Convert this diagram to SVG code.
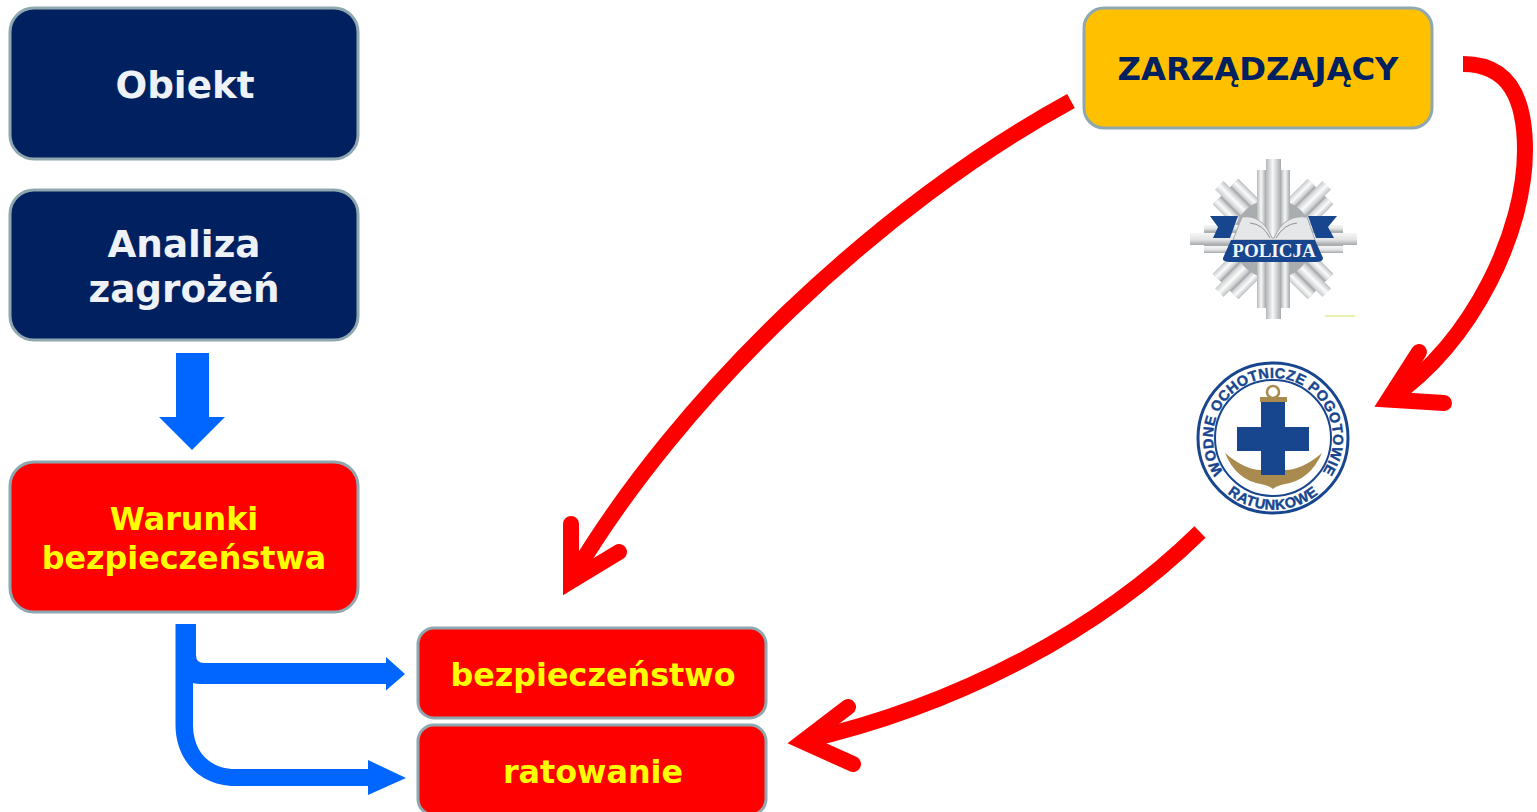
<svg xmlns="http://www.w3.org/2000/svg" width="1537" height="812" viewBox="0 0 1537 812">
<style>
.box{stroke:#8fa8b0;stroke-width:3}
.navy{fill:#00205f}.red{fill:#ff0000}.amber{fill:#ffc000}
text{font-family:"DejaVu Sans",Verdana,sans-serif;font-weight:700;text-anchor:middle}
.w{fill:#eef2f6;font-size:37.300px}.y{fill:#ffff00;font-size:31.800px}
.blue{fill:#0066ff}
.ra{fill:none;stroke:#ff0000;stroke-width:16}
.rh{fill:none;stroke:#ff0000;stroke-width:16;stroke-linecap:round;stroke-linejoin:miter;stroke-miterlimit:10}
.bar{fill:url(#silver)}
.v{fill:url(#sv)}
.h{fill:url(#sh)}
.ring{font-family:"Liberation Sans",Arial,sans-serif;font-size:14.500px;fill:#17468f;stroke:#17468f;stroke-width:.4px;font-weight:700;letter-spacing:.4px}
</style>
<defs>
<linearGradient id="silver" x1="0" y1="0" x2="1" y2="0"><stop offset="0" stop-color="#c9cccd"/><stop offset=".5" stop-color="#fbfbfb"/><stop offset="1" stop-color="#bfc2c4"/></linearGradient>
<linearGradient id="sv" x1="0" y1="0" x2="1" y2="0"><stop offset="0" stop-color="#b4b7ba"/><stop offset=".45" stop-color="#f8f8f8"/><stop offset="1" stop-color="#a5a9ac"/></linearGradient>
<linearGradient id="sh" x1="0" y1="0" x2="0" y2="1"><stop offset="0" stop-color="#f6f6f6"/><stop offset=".55" stop-color="#e2e3e4"/><stop offset="1" stop-color="#a5a9ac"/></linearGradient>
<path id="ringTop" d="M1228.300,478 A60,60 0 1 1 1317.700,478"/>
<path id="ringBot" d="M1212,476 A72,72 0 0 0 1334,476"/>
<g id="diag">
<rect x="1255" y="172" width="36" height="134" fill="#a9adb0"/>
<rect class="bar" x="1255" y="172" width="10" height="134"/>
<rect class="bar" x="1267" y="163" width="12" height="152"/>
<rect class="bar" x="1281" y="172" width="10" height="134"/>
</g>
</defs>
<g id="connectors">
<path class="blue" d="M176,353H209V417H225L192,450L159,417H176Z"/>
<path class="blue" d="M175.500,624H196V655Q196,663 204,663H386V657L405,674L386,690.500V684H204Q196,684 193,683V725C193,752 210,769 235,769H368V760L406,778L368,795V786H235C200,786 175.500,760 175.500,725Z"/>
<path class="ra" d="M1071,101C880,205 680,395 572,578"/>
<path class="rh" d="M571,524L571,581L619,552"/>
<path class="ra" d="M1463,64C1510,64 1525,100 1525,150C1525,230 1475,340 1390,399"/>
<path class="rh" d="M1419,352L1388.500,399.500L1444,403"/>
<path class="ra" d="M1200,532C1100,630 960,705 803,741"/>
<path class="rh" d="M848,707L803,741.500L853,764"/>
</g>
<g id="obiekt"><rect class="box navy" x="10" y="8" width="348" height="151" rx="24"/><text class="w" x="185" y="98">Obiekt</text></g>
<g id="analiza"><rect class="box navy" x="10" y="190" width="348" height="150" rx="24"/><text class="w" x="184" y="257">Analiza</text><text class="w" x="184" y="302">zagrożeń</text></g>
<g id="warunki"><rect class="box red" x="10" y="462" width="348" height="150" rx="24"/><text class="y" x="184" y="530">Warunki</text><text class="y" x="184" y="569">bezpieczeństwa</text></g>
<g id="bezpieczenstwo"><rect class="box red" x="418" y="628" width="348" height="90" rx="16"/><text class="y" x="593" y="686">bezpieczeństwo</text></g>
<g id="ratowanie"><rect class="box red" x="418" y="725" width="348" height="90" rx="16"/><text class="y" x="593" y="783">ratowanie</text></g>
<g id="zarzadzajacy"><rect class="box amber" x="1084" y="8" width="348" height="120" rx="20"/><text x="1258" y="80" style="fill:#00205f;font-size:32.300px">ZARZĄDZAJĄCY</text></g>
<g id="policja">
<use href="#diag" transform="rotate(45 1273 239)"/>
<use href="#diag" transform="rotate(-45 1273 239)"/>
<circle cx="1273" cy="239" r="40" fill="#a9adb0"/>
<rect x="1204" y="225" width="139" height="28" fill="#a9adb0"/>
<rect class="h" x="1204" y="225" width="139" height="7"/>
<rect class="h" x="1190" y="233" width="167" height="12"/>
<rect class="h" x="1204" y="246" width="139" height="7"/>
<rect class="v" x="1257" y="170" width="9" height="138"/>
<rect class="v" x="1281" y="170" width="9" height="138"/>
<rect class="v" x="1266" y="159" width="15" height="160"/>
<path d="M1242,217Q1262,214 1272,238H1274Q1284,214 1307,217L1315,240H1233Z" fill="#e6e7e8" stroke="#a5a9ac"/>
<path d="M1250,223Q1263,224 1270,238M1297,223Q1284,224 1276,238" fill="none" stroke="#8d9194"/>
<path d="M1210,216H1238L1230,238H1213L1218,227Z" fill="#17468f"/>
<path d="M1337,216H1308L1316,238H1334L1328,227Z" fill="#17468f"/>
<path d="M1231,240H1315L1323,258Q1323,262 1316,262H1230Q1222,262 1223,258Z" fill="#17468f"/>
<text x="1274" y="257" style="font-family:'Liberation Serif',serif;font-size:19px;fill:#f2f5f9">POLICJA</text>
<rect x="1325" y="315" width="30" height="2" fill="#e9efb0"/>
</g>
<g id="wopr">
<circle cx="1273" cy="438" r="75" fill="#fff" stroke="#17468f" stroke-width="3"/>
<circle cx="1273" cy="438" r="58" fill="#fff" stroke="#17468f" stroke-width="2"/>
<text class="ring"><textPath href="#ringTop" startOffset="50%">WODNE OCHOTNICZE POGOTOWIE</textPath></text>
<text class="ring"><textPath href="#ringBot" startOffset="50%">RATUNKOWE</textPath></text>
<circle cx="1273" cy="392" r="6" fill="none" stroke="#a98b4f" stroke-width="2.500"/>
<rect x="1260" y="397" width="27" height="5" fill="#a98b4f"/>
<path d="M1225,453Q1245,470 1261,470H1285Q1302,470 1322,453Q1310,480 1285,484Q1276,486 1273,489Q1270,486 1261,484Q1236,480 1225,453Z" fill="#a98b4f"/>
<path d="M1261,402H1285V427H1309V451H1285V475H1261V451H1237V427H1261Z" fill="#17468f"/>
</g>
</svg>
